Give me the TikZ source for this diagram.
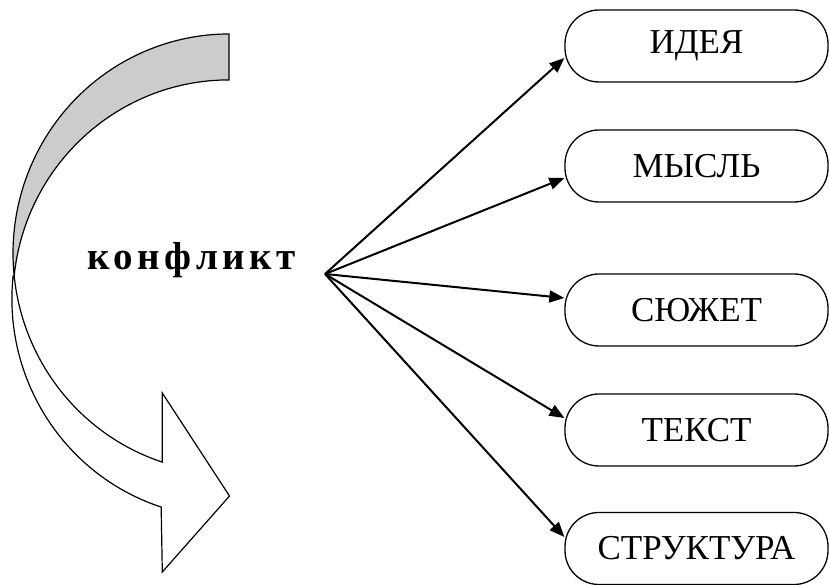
\documentclass[tikz,border=0pt]{standalone}
\usepackage{fontspec}
\setmainfont{Liberation Serif}
\usetikzlibrary{arrows.meta}
\newcommand{\ks}{\kern4.5pt}
\begin{document}
\begin{tikzpicture}[x=1pt,y=1pt,
  box/.style={draw,line width=1.3pt,rounded corners=34pt,minimum width=263pt,minimum height=72pt,inner sep=0pt,font=\fontsize{35}{40}\selectfont},
  conn/.style={line width=2pt,-{Triangle[length=15pt,width=12pt]}},
  outl/.style={draw,line width=1.2pt,line join=miter}]
\useasboundingbox (0,0) rectangle (829,585);
% curved arrow
\fill[gray!40] (229,551) arc[start angle=90,end angle=185.9,x radius=216,y radius=219.4]
  arc[start angle=174,end angle=90,x radius=216,y radius=218.9] -- cycle;
\draw[outl] (229,551) arc[start angle=90,end angle=185.9,x radius=216,y radius=219.4]
  arc[start angle=174,end angle=90,x radius=216,y radius=218.9] -- cycle;
\draw[outl,fill=white] (13.1,309) arc[start angle=174,end angle=252,x radius=216,y radius=218.9]
  -- (162.3,13) -- (229.5,89) -- (162.3,192) -- (162.3,122.9)
  arc[start angle=252,end angle=185.9,x radius=216,y radius=219.4] -- cycle;
% text
\node[font=\fontsize{39}{44}\selectfont\bfseries,inner sep=0pt,anchor=base] (k) at (191.5,315) {к\ks о\ks н\ks ф\ks л\ks и\ks к\ks т};
\coordinate (hub) at (325,311);
% boxes
\node[box] (ide) at (696.5,539) {ИДЕЯ};
\node[box] (mys) at (696.5,419) {МЫСЛЬ};
\node[box] (syu) at (696.5,275) {СЮЖЕТ};
\node[box] (tek) at (696.5,155) {ТЕКСТ};
\node[box] (str) at (696.5,36.5) {СТРУКТУРА};
% connectors
\draw[conn] (hub) -- ([yshift=-12pt]ide.west);
\draw[conn] (hub) -- ([yshift=-12pt]mys.west);
\draw[conn] (hub) -- ([yshift=12pt]syu.west);
\draw[conn] (hub) -- ([yshift=12pt]tek.west);
\draw[conn] (hub) -- ([yshift=11.5pt]str.west);
\end{tikzpicture}
\end{document}
